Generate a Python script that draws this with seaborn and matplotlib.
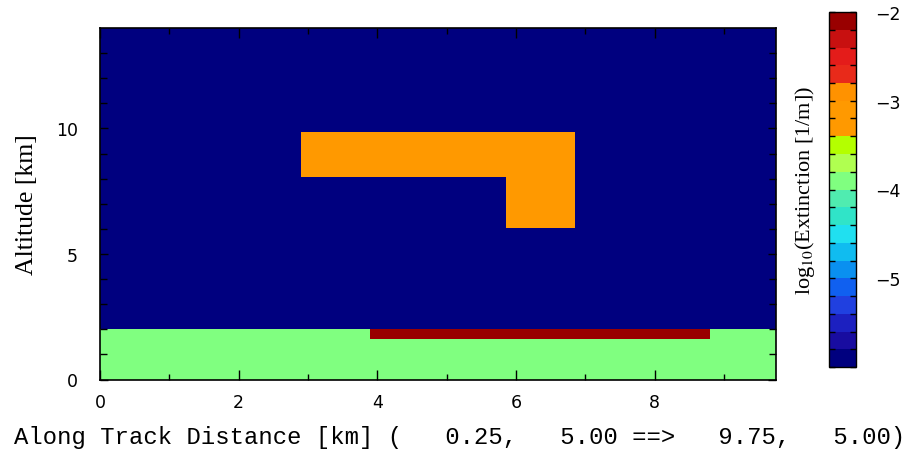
import numpy as np
import pandas as pd
import matplotlib
matplotlib.use("Agg")
import matplotlib.pyplot as plt
import seaborn as sns
from matplotlib.colors import ListedColormap, BoundaryNorm

# ---------------- data ----------------
x_min, x_max = 0.0, 9.75          # along-track distance [km]
y_min, y_max = 0.0, 14.0          # altitude [km]
dx, dy = 0.05, 0.05               # grid resolution [km]
background_value = -5.9           # log10 extinction of clear air

feature_names = ["surface aerosol", "dense aerosol top", "cloud upper deck", "cloud column"]
feature_x0 = [0.0, 3.9, 2.9, 5.85]
feature_x1 = [9.75, 8.8, 6.85, 6.85]
feature_y0 = [0.0, 1.6, 8.05, 6.05]
feature_y1 = [2.0, 2.0, 9.85, 8.05]
feature_value = [-3.9, -2.1, -3.1, -3.1]

level_bounds = [round(-6.0 + 0.2 * i, 1) for i in range(21)]
level_colors = [
    "#00007f", "#180ca0", "#1c20c0", "#2040e0", "#1060f0",
    "#0a90f0", "#10bcf0", "#20e0f0", "#30e4c8", "#50ecb0",
    "#80ff80", "#b0ff50", "#b4ff00", "#ff9900", "#ff9900",
    "#ff9200", "#e82a1a", "#e41c1a", "#c81010", "#990000",
]
cbar_tick_values = [-2, -3, -4, -5]
x_tick_values = [0, 2, 4, 6, 8]
x_minor_values = [1, 3, 5, 7, 9]
y_tick_values = [0, 5, 10]
y_minor_values = [1, 2, 3, 4, 6, 7, 8, 9, 11, 12, 13]

x_label = "Along Track Distance [km] (   0.25,   5.00 ==>   9.75,   5.00)"
y_label = "Altitude [km]"
cbar_label = r"log$_{10}$(Extinction [1/m])"

# ---------------- grid ----------------
xc = np.arange(x_min + dx / 2, x_max, dx)
yc = np.arange(y_min + dy / 2, y_max, dy)
grid = np.full((len(yc), len(xc)), background_value)
for x0, x1, y0, y1, v in zip(feature_x0, feature_x1, feature_y0, feature_y1, feature_value):
    mx = (xc >= x0) & (xc < x1)
    my = (yc >= y0) & (yc < y1)
    grid[np.ix_(my, mx)] = v
df = pd.DataFrame(grid, index=np.round(yc, 3), columns=np.round(xc, 3))

# ---------------- plot ----------------
plt.rcParams["mathtext.fontset"] = "stix"
W, H = 909, 452
fig = plt.figure(figsize=(W / 100, H / 100), dpi=100)
ax = fig.add_axes([100 / W, 1 - 380.5 / H, 676 / W, 351.5 / H])
cax = fig.add_axes([829 / W, 1 - 368 / H, 27 / W, 355 / H])

cmap = ListedColormap(level_colors)
norm = BoundaryNorm(level_bounds, cmap.N)
sns.heatmap(df, ax=ax, cmap=cmap, norm=norm, cbar_ax=cax,
            xticklabels=False, yticklabels=False, linewidths=0, rasterized=True)
ax.invert_yaxis()

for s in ax.spines.values():
    s.set_visible(True)
    s.set_color("black")
    s.set_linewidth(1.2)

tick_font = dict(family="DejaVu Sans", size=12.5)
ax.set_xticks([v / dx for v in x_tick_values])
ax.set_xticklabels([str(v) for v in x_tick_values], fontdict=tick_font)
ax.set_xticks([v / dx for v in x_minor_values], minor=True)
ax.set_yticks([v / dy for v in y_tick_values])
ax.set_yticklabels([str(v) for v in y_tick_values], fontdict=tick_font)
ax.set_yticks([v / dy for v in y_minor_values], minor=True)
ax.tick_params(axis="both", which="both", direction="in", top=True, right=True,
               bottom=True, left=True, color="black")
ax.tick_params(axis="x", which="major", length=7, width=1, pad=10)
ax.tick_params(axis="x", which="minor", length=4, width=1)
ax.tick_params(axis="y", which="major", length=6, width=1, pad=16)
ax.tick_params(axis="y", which="minor", length=5, width=1)

ax.set_xlabel(x_label, family="Liberation Mono", fontsize=17.2)
ax.xaxis.label.set_ha("right")
ax.xaxis.label.set_va("center")
ax.xaxis.set_label_coords((905 - 100) / 676, (380.5 - 438) / 351.5)

ax.set_ylabel(y_label, family="Liberation Serif", fontsize=18.5)
ax.yaxis.label.set_va("center")
ax.yaxis.set_label_coords((27 - 100) / 676, 0.5)

cbar = ax.collections[0].colorbar
cbar.outline.set_linewidth(1.0)
cbar.outline.set_edgecolor("black")
cbar.set_ticks(level_bounds)
cbar.set_ticklabels(["\u2212" + str(-int(v)) if (v in cbar_tick_values) else "" for v in level_bounds])
cax.tick_params(direction="in", left=True, right=True, length=4, width=1,
                labelsize=12.5, pad=14, color="black")
for lab in cax.get_yticklabels():
    lab.set_family("DejaVu Sans")
cax.set_ylabel(cbar_label, family="Liberation Serif", fontsize=16)
cax.yaxis.set_label_position("left")
cax.yaxis.label.set_va("center")
cax.yaxis.set_label_coords((805 - 829) / 27, 0.5)

fig.savefig("out.png", dpi=100, facecolor="white")
